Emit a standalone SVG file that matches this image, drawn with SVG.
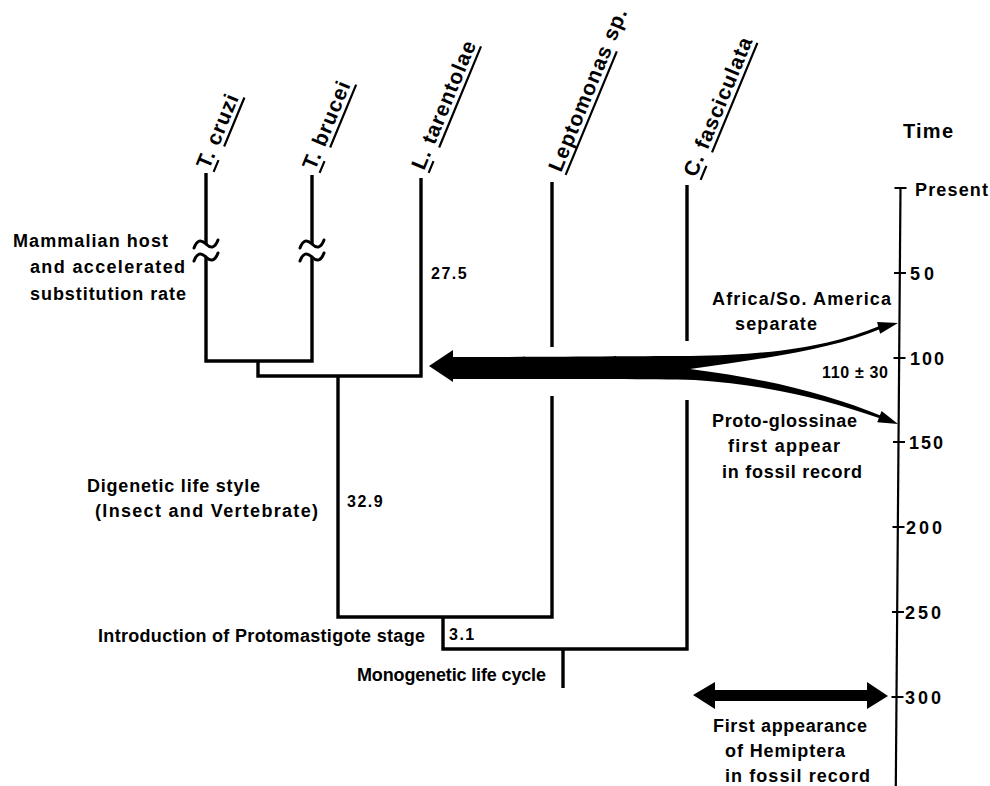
<svg xmlns="http://www.w3.org/2000/svg" width="990" height="786" viewBox="0 0 990 786">
<style>
text{font-family:"Liberation Sans",Arial,sans-serif;font-weight:bold;fill:#000;font-size:18px}
.tax{font-size:21px;letter-spacing:1px}
.num{font-size:16px;letter-spacing:1.5px}
.ul{stroke:#000;stroke-width:2.2;fill:none}
.br{fill:none;stroke:#000;stroke-width:3.4;stroke-linejoin:miter;stroke-linecap:butt}
.tl{fill:none;stroke:#000;stroke-width:3;stroke-linecap:round}
.ax{fill:none;stroke:#000;stroke-width:2.2}
</style>
<rect width="990" height="786" fill="#fff"/>

<g id="connectors">
  <path class="br" d="M206,173 V244 M206,257 V361 H312 V257 M312,175 V244"/>
  <path class="tl" d="M194,248 C197,240 201,239 206,244 C211,249 215,248 218,240"/>
  <path class="tl" d="M194,261 C197,253 201,252 206,257 C211,262 215,261 218,253"/>
  <path class="tl" d="M300,248 C303,240 307,239 312,244 C317,249 321,248 324,240"/>
  <path class="tl" d="M300,261 C303,253 307,252 312,257 C317,262 321,261 324,253"/>
  <path class="br" d="M258,361 V376 H421 V178"/>
  <path class="br" d="M338,376 V617 H552 V396 M552,182 V347"/>
  <path class="br" d="M443,617 V649 H687 V400 M687,185 V341"/>
  <path class="br" d="M563,649 V688"/>
</g>

<g id="arrows">
  <path d="M429,366 L453,350 L453,357 C560,357 640,356 690,356 C780,355 835,344 878.2,326.4 L877.1,322.1 L898,323 L880.1,333.7 L879,329.4 C835,348 770,358 690,369 C770,379 830,395 879.9,415.3 L881.6,411.1 L898,424 L877.2,422.3 L878.9,418.1 C830,401 770,385 695,380 C640,379 560,379 453,379 L453,382 Z" fill="#000"/>
  <path d="M693,695 L715,682 L715,690 L867,690 L867,682 L888,696 L867,709 L867,701 L715,701 L715,709 Z" fill="#000"/>
</g>

<g id="time-axis">
  <path class="ax" d="M900.5,188 L895.8,786"/>
  <path class="ax" d="M894.5,188 H906.5 M894,273 H906 M893.5,358 H905.5 M893,442 H905 M892.5,527 H904.5 M892,612 H904 M891.5,697 H903.5"/>
  <text x="903" y="138" style="font-size:20px" textLength="50" lengthAdjust="spacing">Time</text>
  <text x="915" y="196" textLength="73" lengthAdjust="spacing">Present</text>
  <text x="910" y="280" textLength="24" lengthAdjust="spacing">50</text>
  <text x="910" y="365" textLength="34" lengthAdjust="spacing">100</text>
  <text x="909" y="449" textLength="34" lengthAdjust="spacing">150</text>
  <text x="906" y="534" textLength="36" lengthAdjust="spacing">200</text>
  <text x="905" y="619" textLength="36" lengthAdjust="spacing">250</text>
  <text x="905" y="704" textLength="36" lengthAdjust="spacing">300</text>
</g>

<g id="t-cruzi" transform="translate(209,170) rotate(-67.5)">
  <text class="tax" x="0" y="0">T. cruzi</text>
  <path class="ul" d="M0,5 H12.8 M27.5,5 H80.5"/>
</g>
<g id="t-brucei" transform="translate(315,171) rotate(-67.5)">
  <text class="tax" x="0" y="0">T. brucei</text>
  <path class="ul" d="M0,5 H12.8 M27.5,5 H95.5"/>
</g>
<g id="l-tarentolae" transform="translate(424,171) rotate(-67.5)">
  <text class="tax" x="0" y="0">L. tarentolae</text>
  <path class="ul" d="M0,5 H12.8 M27.5,5 H136.9"/>
</g>
<g id="leptomonas" transform="translate(561,173) rotate(-67.5)">
  <text class="tax" x="0" y="0">Leptomonas sp.</text>
  <path class="ul" d="M0,5 H133.8"/>
</g>
<g id="c-fasciculata" transform="translate(696,178) rotate(-67.5)">
  <text class="tax" x="0" y="0">C. fasciculata</text>
  <path class="ul" d="M0,5 H15.2 M29.8,5 H148.4"/>
</g>

<g id="mammalian-note">
  <text x="13" y="247" textLength="155" lengthAdjust="spacing">Mammalian host</text>
  <text x="30" y="273" textLength="155" lengthAdjust="spacing">and accelerated</text>
  <text x="30" y="300" textLength="156" lengthAdjust="spacing">substitution rate</text>
</g>
<g id="branch-27-5"><text class="num" x="431" y="279">27.5</text></g>
<g id="digenetic-note">
  <text x="87" y="492" textLength="173" lengthAdjust="spacing">Digenetic life style</text>
  <text x="95" y="517" textLength="223" lengthAdjust="spacing">(Insect and Vertebrate)</text>
</g>
<g id="branch-32-9"><text class="num" x="347" y="507">32.9</text></g>
<g id="protomastigote-note">
  <text x="98" y="642" textLength="327" lengthAdjust="spacing">Introduction of Protomastigote stage</text>
</g>
<g id="branch-3-1"><text class="num" x="449" y="640">3.1</text></g>
<g id="monogenetic-note">
  <text x="357" y="681" textLength="189" lengthAdjust="spacing">Monogenetic life cycle</text>
</g>
<g id="africa-note">
  <text x="712" y="305" textLength="179" lengthAdjust="spacing">Africa/So. America</text>
  <text x="735" y="330" textLength="82" lengthAdjust="spacing">separate</text>
</g>
<g id="range-note"><text x="822" y="378" style="font-size:16px" textLength="66" lengthAdjust="spacing">110 ± 30</text></g>
<g id="glossinae-note">
  <text x="712" y="427" textLength="145" lengthAdjust="spacing">Proto-glossinae</text>
  <text x="728" y="452" textLength="112" lengthAdjust="spacing">first appear</text>
  <text x="722" y="478" textLength="140" lengthAdjust="spacing">in fossil record</text>
</g>
<g id="hemiptera-note">
  <text x="713" y="732" textLength="154" lengthAdjust="spacing">First appearance</text>
  <text x="725" y="757" textLength="120" lengthAdjust="spacing">of Hemiptera</text>
  <text x="725" y="782" textLength="145" lengthAdjust="spacing">in fossil record</text>
</g>
</svg>
